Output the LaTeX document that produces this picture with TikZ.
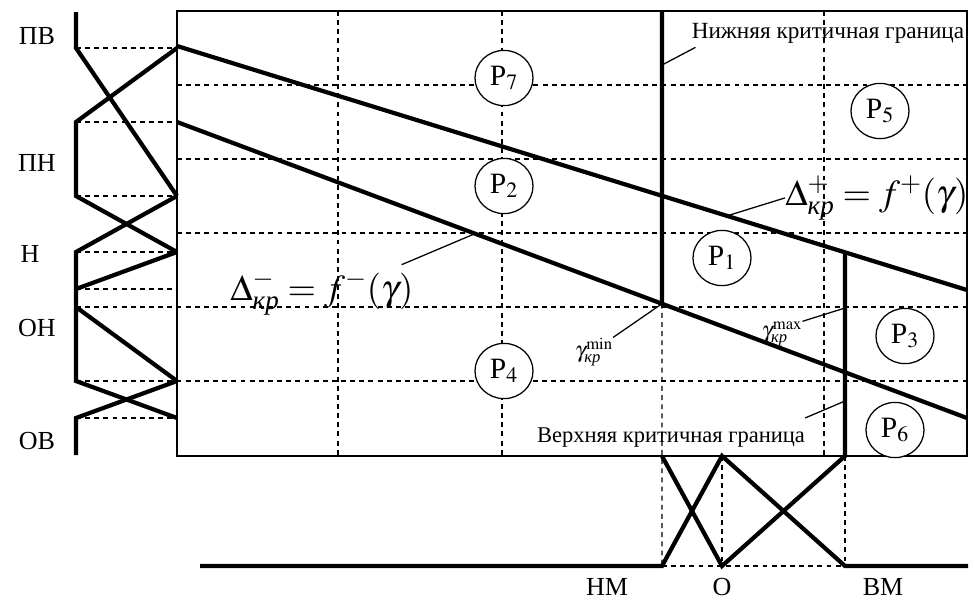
\documentclass[tikz,border=0pt]{standalone}
\usepackage{amsmath}
\usepackage{mathptmx}
\usepackage{fontspec}
\setmainfont{Liberation Serif}
\usetikzlibrary{calc,shapes.geometric}
\tikzset{
  bold/.style={line width=3pt},
  grid/.style={dash pattern=on 3.5pt off 3pt,line width=0.8pt},
  lead/.style={line width=0.9pt},
  term/.style={inner sep=0pt,font=\fontsize{18.5}{20}\selectfont},
  region/.style={draw,fill=white,ellipse,line width=0.9pt,inner sep=0pt,minimum width=1.45cm,minimum height=1.38cm,font=\fontsize{21}{23}\selectfont},
  formula/.style={inner sep=0pt,anchor=base west,font=\fontsize{26}{28}\selectfont},
  note/.style={inner sep=0pt,font=\fontsize{16}{18}\selectfont},
  gam/.style={inner sep=0pt,font=\fontsize{16}{18}\selectfont}
}
\begin{document}
\begin{tikzpicture}[x=0.025cm,y=-0.025cm]
    \useasboundingbox (0,0) rectangle (975,601);
    % frame and grid
    \draw[line width=0.8pt] (177,11) rectangle (967,456);
    \foreach \y in {85,159,233} \draw[grid] (177,\y) -- (967,\y);
    \foreach \y in {307,381} \draw[grid] (76,\y) -- (967,\y);
    \foreach \y in {48,122,196,252,289,418} \draw[grid] (76,\y) -- (177,\y);
    \foreach \x in {338,502,824} \draw[grid] (\x,11) -- (\x,456);
    % critical lines
    \coordinate (u0) at (177,46);
    \coordinate (u1) at (967,290);
    \coordinate (l0) at (177,122);
    \coordinate (l1) at (967,418);
    \coordinate (lowcut) at ($(l0)!{(662-177)/790}!(l1)$);
    \coordinate (upcut) at ($(u0)!{(845-177)/790}!(u1)$);
    \draw[bold] (u0) -- (u1);
    \draw[bold] (l0) -- (l1);
    \draw[bold] (662,11) -- (lowcut);
    \draw[grid] (lowcut) -- (662,566);
    \foreach \x in {722,845} \draw[grid] (\x,456) -- (\x,566);
    \draw[grid] (662,566) -- (845,566);
    % left terms
    \draw[bold] (76,12) -- (76,48) -- (177,196);
    \draw[bold] (177,48) -- (76,122) -- (76,196) -- (177,252);
    \draw[bold] (177,196) -- (76,252) -- (76,381) -- (177,418);
    \draw[bold] (177,252) -- (76,289);
    \draw[bold] (76,307) -- (177,381);
    \draw[bold] (177,381) -- (76,418) -- (76,455);
    % bottom terms
    \draw[bold] (200,566) -- (662,566) -- (722,456) -- (845,566) -- (968,566);
    \draw[bold] (662,456) -- (722,566) -- (845,456) -- (upcut);
    % labels
    \node[term] (pv) at (37,36) {ПВ};
    \node[term] (pn) at (37,163) {ПН};
    \node[term] (n) at (30,254) {Н};
    \node[term] (on) at (37,328) {ОН};
    \node[term] (ov) at (37,441) {ОВ};
    \node[term] (nm) at (607,587) {НМ};
    \node[term] (o) at (722,587) {О};
    \node[term] (vm) at (883,587) {ВМ};
    % regions
    \node[region] (p7) at (504,78) {P$_7$};
    \node[region] (p2) at (504,186) {P$_2$};
    \node[region] (p4) at (504,371) {P$_4$};
    \node[region] (p1) at (722,258) {P$_1$};
    \node[region] (p5) at (880,111) {P$_5$};
    \node[region] (p3) at (905,336) {P$_3$};
    \node[region] (p6) at (895,430) {P$_6$};
    % formulas and notes
    \node[formula] (dplus) at (785,205) {$\Delta^{+}_{\text{\itshape кр}} = f^{+}(\gamma)$};
    \node[formula] (dminus) at (230,300) {$\Delta^{-}_{\text{\itshape кр}} = f^{-}(\gamma)$};
    \node[note,font=\fontsize{16.5}{18}\selectfont] (lower) at (828,33) {Нижняя критичная граница};
    \node[note] (upper) at (671,438) {Верхняя критичная граница};
    \node[gam] (gmin) at (594,352) {$\gamma^{\mathrm{min}}_{\text{\itshape кр}}$};
    \node[gam] (gmax) at (782,334) {$\gamma^{\mathrm{max}}_{\text{\itshape кр}}$};
    \coordinate (a1) at ($(u0)!{(727-177)/790}!(u1)$);
    \coordinate (a2) at ($(l0)!{(475-177)/790}!(l1)$);
    \coordinate (a3) at (662,65);
    \coordinate (a4) at (845,308);
    \coordinate (a5) at (845,401);
    \draw[lead] (dplus.west) -- (a1);
    \draw[lead] ([shift={(-12,-6)}]dminus.north east) -- (a2);
    \draw[lead] ([shift={(4,4)}]lower.south west) -- (a3);
    \draw[lead] (gmin.north east) -- (lowcut);
    \draw[lead] (gmax.north east) -- (a4);
    \draw[lead] ([shift={(0,-10)}]upper.north east) -- (a5);
\end{tikzpicture}
\end{document}
